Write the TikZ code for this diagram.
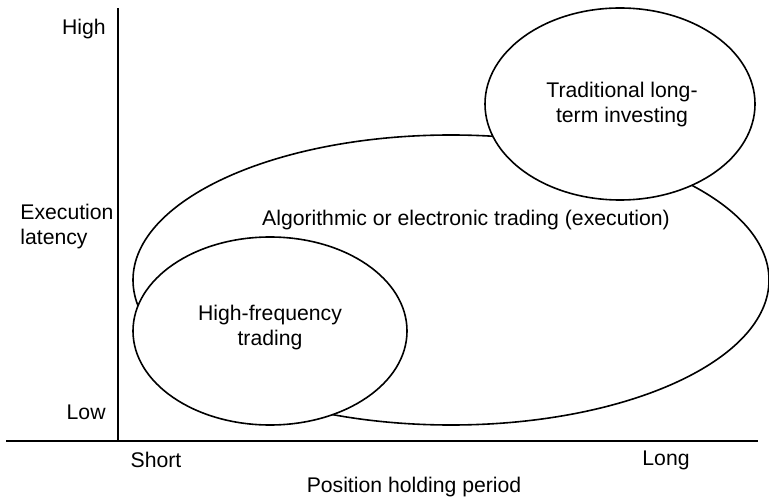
\documentclass[tikz,border=0pt]{standalone}
\usepackage{fontspec}
\setmainfont{Liberation Sans}

\begin{document}
\begin{tikzpicture}[x=0.5pt,y=0.5pt,
   lbl/.style={inner sep=0pt,font=\fontsize{10.6}{12.5}\selectfont},
   blob/.style={draw,line width=0.8pt,fill=white}]
   \useasboundingbox (0,0) rectangle (769,498);
   % axes
   \coordinate (xstart) at (6,57);
   \coordinate (xend) at (758,57);
   \coordinate (origin) at (118,57);
   \coordinate (ytop) at (118,490);
   \draw[line width=0.8pt] (xstart) -- (xend);
   \draw[line width=0.8pt] (origin) -- (ytop);
   % regions
   \draw[blob] (451,218) ellipse[x radius=318,y radius=145];
   \draw[blob] (270,167) ellipse[x radius=137,y radius=94];
   \draw[blob] (620,394) ellipse[x radius=135,y radius=96];
   \node[lbl] (algo) at (466,278) {Algorithmic or electronic trading (execution)};
   \node[lbl,align=center] (hft) at (270,170) {High-frequency\\trading};
   \node[lbl,align=center] (trad) at (622,393) {Traditional long-\\term investing};
   % axis labels
   \node[lbl,anchor=base east] (high) at (106,463) {High};
   \node[lbl,anchor=base east] (low) at (106,79) {Low};
   \node[lbl,anchor=west,align=left] (latency) at (20,271) {Execution\\latency};
   \node[lbl] (short) at (156,38) {Short};
   \node[lbl] (long) at (666,38) {Long};
   \node[lbl] (period) at (414,11) {Position holding period};
\end{tikzpicture}
\end{document}
